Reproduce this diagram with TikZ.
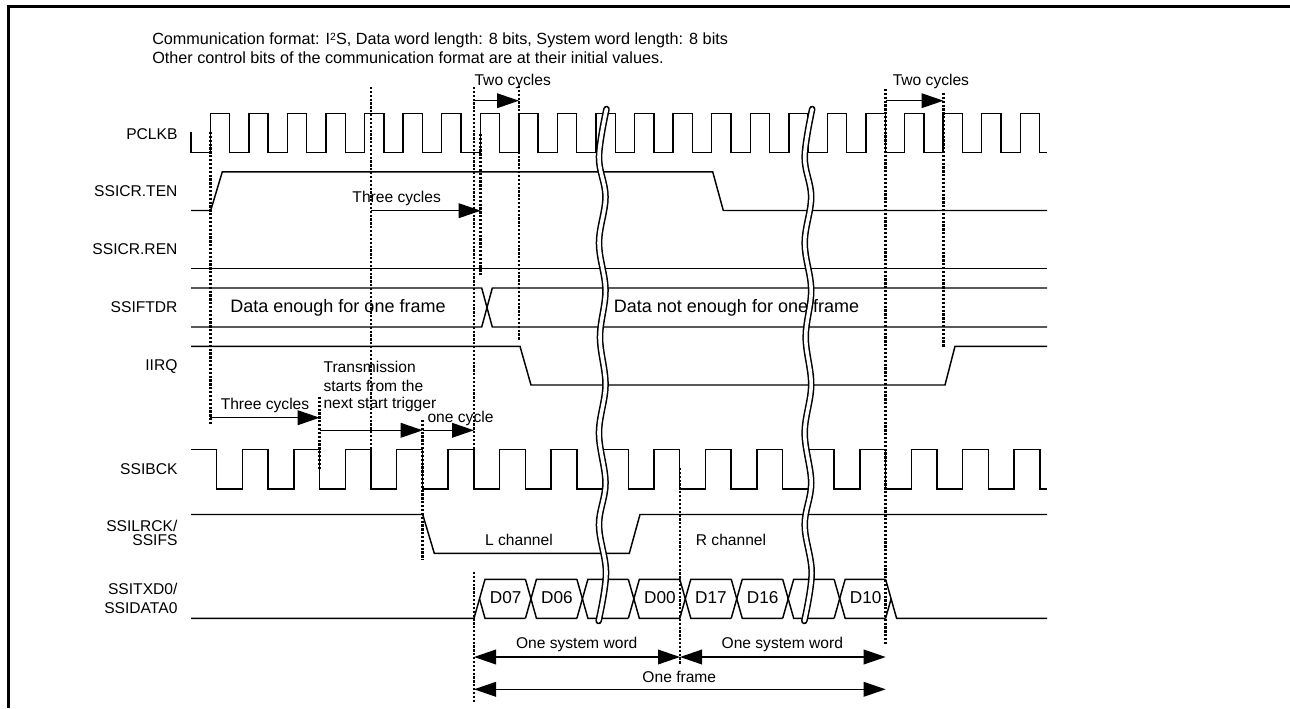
\documentclass[tikz,border=0pt]{standalone}
\usepackage{fontspec}
\setmainfont{Liberation Sans}
\usetikzlibrary{arrows.meta}
\tikzset{
  trace/.style={line width=1.1pt,line join=miter},
  guide/.style={line width=2.2pt,dash pattern=on 1.7pt off 1.2pt},
  span/.style={line width=1.1pt,-{Triangle[length=16.5pt,width=11pt]}},
  bispan/.style={line width=1.1pt,{Triangle[length=16.5pt,width=11pt]}-{Triangle[length=16.5pt,width=11pt]}},
  sig/.style={anchor=east,inner sep=0pt,font=\fontsize{11.7}{12}\selectfont},
  lab/.style={inner sep=0pt,font=\fontsize{11.7}{12}\selectfont},
  wordlab/.style={inner sep=0pt,font=\fontsize{12.9}{13}\selectfont},
  big/.style={inner sep=0pt,font=\fontsize{13.5}{14}\selectfont},
  hdr/.style={anchor=base west,inner sep=0pt,font=\fontsize{12.15}{13}\selectfont},
}
\begin{document}
\begin{tikzpicture}[x=0.75pt,y=-0.75pt]
\useasboundingbox (0,0) rectangle (1290,708);
\fill[white] (0,0) rectangle (1290,708);
% frame (top and left only)
\draw[line width=2.25pt] (8.5,708) -- (8.5,6.5) -- (1290,6.5);

% header
\node[hdr] (h1) at (152,44.3) {Communication format: I\raisebox{0.45ex}{\fontsize{7.8}{8}\selectfont 2}S, Data word length: 8 bits, System word length: 8 bits};
\node[hdr] (h2) at (152,63.3) {Other control bits of the communication format are at their initial values.};

% signal names
\node[sig] (nPCLKB) at (177.7,134) {PCLKB};
\node[sig] (nTEN) at (177.7,191.5) {SSICR.TEN};
\node[sig] (nREN) at (177.7,249.5) {SSICR.REN};
\node[sig] (nFTDR) at (177.7,307.5) {SSIFTDR};
\node[sig] (nIIRQ) at (177.7,366.5) {IIRQ};
\node[sig] (nBCK) at (177.7,469) {SSIBCK};
\node[sig] (nLR1) at (177.7,525.5) {SSILRCK/};
\node[sig] (nLR2) at (177.7,540.5) {SSIFS};
\node[sig] (nTX1) at (177.7,588.5) {SSITXD0/};
\node[sig] (nTX2) at (177.7,608) {SSIDATA0};

% PCLKB
\draw[trace] (191,132) -- (191,152.7)
  foreach \k [evaluate=\k as \r using 210.3+\k*38.57, evaluate=\k as \f using 229.6+\k*38.57] in {0,...,21} {
    -- (\r,152.7) -- (\r,113.3) -- (\f,113.3) -- (\f,152.7)
  } -- (1047,152.7);
% SSICR.TEN
\draw[trace] (191,210.5) -- (210.7,210.5) -- (222.3,171.8) -- (712.7,171.8) -- (723.3,210.5) -- (1047,210.5);
% SSICR.REN
\draw[trace] (191,268.5) -- (1047,268.5);
% SSIFTDR
\draw[trace] (191,288) -- (481.7,288) -- (492.3,327) -- (1047,327);
\draw[trace] (191,327) -- (481.7,327) -- (492.3,288) -- (1047,288);
% IIRQ
\draw[trace] (191,346.3) -- (520,346.3) -- (531,385) -- (945,385) -- (955,346.3) -- (1047,346.3);
% SSIBCK
\draw[trace] (191,449.7)
  foreach \k [evaluate=\k as \f using 216.7+\k*51.45, evaluate=\k as \r using 242.4+\k*51.45] in {0,...,15} {
    -- (\f,449.7) -- (\f,489) -- (\r,489) -- (\r,449.7)
  } -- (1040.0,449.7) -- (1040.0,489) -- (1047,489);
% SSILRCK
\draw[trace] (191,514.5) -- (422.7,514.5) -- (434.3,553.3) -- (629.3,553.3) -- (640,514.5) -- (1047,514.5);
% SSITXD0
\draw[trace] (191,618.3) -- (474,618.3) -- (485,579.3) -- (525.45,579.3);
\draw[trace] (479.5,598.8) -- (485,618.3) -- (525.45,618.3);
\foreach \k [evaluate=\k as \t using 525.45+\k*51.45, evaluate=\k as \u using 525.45+\k*51.45+11, evaluate=\k as \v using 525.45+\k*51.45+51.45] in {0,...,6} {
  \draw[trace] (\t,579.3) -- (\u,618.3) -- (\v,618.3);
  \draw[trace] (\t,618.3) -- (\u,579.3) -- (\v,579.3);
}
\draw[trace] (885.6,579.3) -- (896.6,618.3) -- (1047,618.3);
\draw[trace] (885.6,618.3) -- (891.1,598.8);

% data labels
\node[wordlab] (d07) at (505.7,598) {D07};
\node[wordlab] (d06) at (556.9,598) {D06};
\node[wordlab] (d00) at (660,598) {D00};
\node[wordlab] (d17) at (711,598) {D17};
\node[wordlab] (d16) at (762.7,598) {D16};
\node[wordlab] (d10) at (865.7,598) {D10};
\node[lab] (lch) at (519,540) {L channel};
\node[lab] (rch) at (731,540) {R channel};
\node[big] (enough) at (338,308) {Data enough for one frame};
\node[big] (notenough) at (736.5,308) {Data not enough for one frame};

% wavy breaks
\foreach \dx in {0,205.7} {
  \draw[line width=4.95pt,line cap=round,xshift=\dx*0.75pt]
    plot[smooth,tension=0.6] coordinates {(606.5,109) (599,157) (605.5,197) (599,243) (605.5,290) (600,337) (605.5,385) (599,433) (605.5,483) (599,525) (606,573) (598.6,621)};
  \draw[line width=2.7pt,white,line cap=round,xshift=\dx*0.75pt]
    plot[smooth,tension=0.6] coordinates {(606.5,109) (599,157) (605.5,197) (599,243) (605.5,290) (600,337) (605.5,385) (599,433) (605.5,483) (599,525) (606,573) (598.6,621)};
}

% guide lines
\coordinate (g1t) at (210.3,132);   \coordinate (g1b) at (210.3,425);
\coordinate (g2t) at (371,87);      \coordinate (g2b) at (371,470);
\coordinate (g3t) at (474,87);      \coordinate (g3b) at (474,450);
\coordinate (g3c) at (474,572);     \coordinate (g3d) at (474,703);
\coordinate (g4t) at (480.7,134);   \coordinate (g4b) at (480.7,276);
\coordinate (g5t) at (519,86);      \coordinate (g5b) at (519,340.7);
\coordinate (g6t) at (319.7,397);   \coordinate (g6b) at (319.7,470);
\coordinate (g7t) at (422.7,420);   \coordinate (g7b) at (422.7,560);
\coordinate (g8t) at (680,468);     \coordinate (g8b) at (680,665);
\coordinate (g9t) at (885.7,89);    \coordinate (g9b) at (885.7,645);
\coordinate (g10t) at (943.5,93);   \coordinate (g10b) at (943.5,347);
\foreach \p/\q in {g1t/g1b,g2t/g2b,g3t/g3b,g3c/g3d,g4t/g4b,g5t/g5b,g6t/g6b,g7t/g7b,g8t/g8b,g9t/g9b,g10t/g10b}
  \draw[guide] (\p) -- (\q);

% spans
\coordinate (s1a) at (474,100.7);   \coordinate (s1b) at (519,100.7);
\coordinate (s2a) at (371,210.7);   \coordinate (s2b) at (480.7,210.7);
\coordinate (s3a) at (210.3,417.7); \coordinate (s3b) at (319.7,417.7);
\coordinate (s4a) at (319.7,430.3); \coordinate (s4b) at (422.7,430.3);
\coordinate (s5a) at (422.7,430.3); \coordinate (s5b) at (474,430.3);
\coordinate (s6a) at (885.7,100.7); \coordinate (s6b) at (943.5,100.7);
\coordinate (s7a) at (474,657);     \coordinate (s7b) at (680,657);
\coordinate (s8a) at (680,657);     \coordinate (s8b) at (885.7,657);
\coordinate (s9a) at (474,689.3);   \coordinate (s9b) at (885.7,689.3);
\foreach \p/\q in {s1a/s1b,s2a/s2b,s3a/s3b,s4a/s4b,s5a/s5b,s6a/s6b}
  \draw[span] (\p) -- (\q);
\foreach \p/\q in {s7a/s7b,s8a/s8b,s9a/s9b}
  \draw[bispan] (\p) -- (\q);

% span labels
\node[lab,anchor=west] (t1) at (474.3,81.5) {Two cycles};
\node[lab,anchor=west] (t2) at (892.5,81.5) {Two cycles};
\node[lab] (t3) at (396.7,198) {Three cycles};
\node[lab] (t4) at (265,405) {Three cycles};
\node[lab,anchor=west] (t5) at (427.3,418.5) {one cycle};
\node[lab,anchor=west] (t6) at (323.3,366.5) {Transmission};
\node[lab,anchor=west] (t7) at (323.3,385.5) {starts from the};
\node[lab,anchor=west] (t8) at (323.3,404.5) {next start trigger};
\node[lab] (t9) at (576.7,644.5) {One system word};
\node[lab] (t10) at (782.3,644.5) {One system word};
\node[lab] (t11) at (679.3,676.5) {One frame};
\end{tikzpicture}
\end{document}
